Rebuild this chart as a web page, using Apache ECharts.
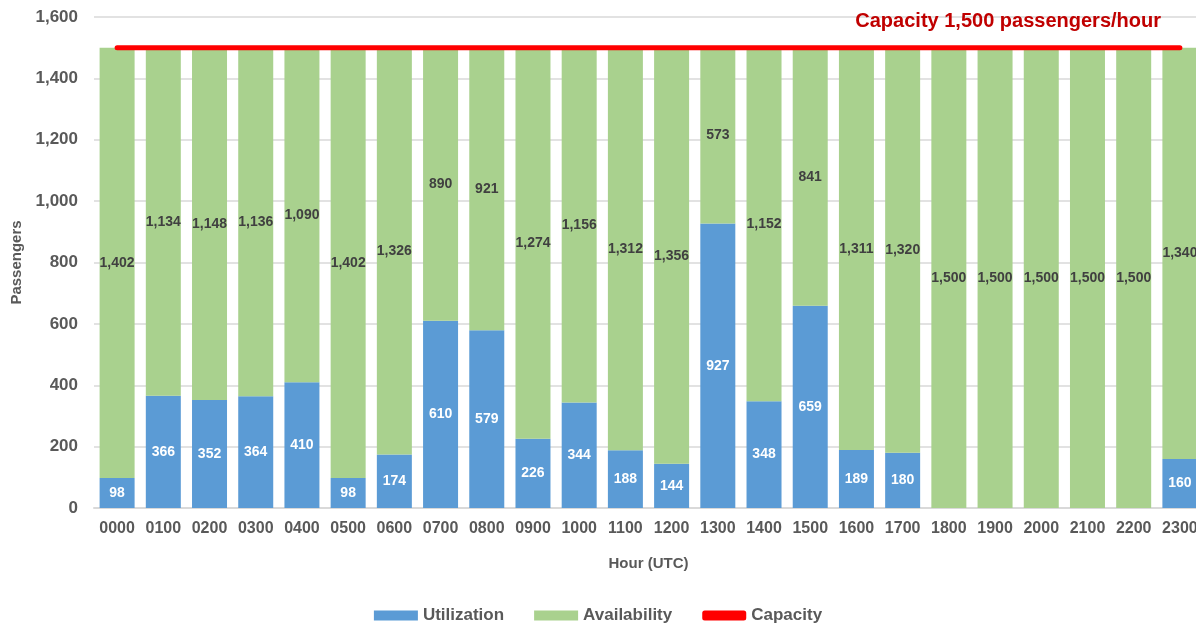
<!DOCTYPE html>
<html><head><meta charset="utf-8">
<script src="https://cdn.jsdelivr.net/npm/echarts@6/dist/echarts.min.js"></script>
<style>html,body{margin:0;padding:0;background:#fff}#c{width:1196px;height:631px}</style>
</head><body><div id="c"></div>
<script>
const hours = ['0000','0100','0200','0300','0400','0500','0600','0700','0800','0900','1000','1100','1200','1300','1400','1500','1600','1700','1800','1900','2000','2100','2200','2300'];
const utilization = [98,366,352,364,410,98,174,610,579,226,344,188,144,927,348,659,189,180,0,0,0,0,0,160];
const availability = [1402,1134,1148,1136,1090,1402,1326,890,921,1274,1156,1312,1356,573,1152,841,1311,1320,1500,1500,1500,1500,1500,1340];
const capacity = hours.map(() => 1500);
const yTicks = {min: 0, max: 1600, interval: 200};

const F = '"Liberation Sans", Arial, sans-serif';
const fmt = v => v.toLocaleString('en-US');
const chart = echarts.init(document.getElementById('c'));
chart.setOption({
  animation: false,
  textStyle: {fontFamily: F},
  title: {
    text: 'Capacity 1,500 passengers/hour',
    right: 30, top: 6,
    textStyle: {color: '#C00000', fontSize: 20, fontWeight: 'bold', fontFamily: F}
  },
  grid: {left: 94, top: 17, width: 1109, bottom: 123, outerBoundsMode: 'none', containLabel: false},
  legend: {
    bottom: 2, left: 'center', itemGap: 30, itemWidth: 44, itemHeight: 10,
    textStyle: {fontSize: 17, fontWeight: 'bold', color: '#595959', fontFamily: F},
    data: [
      {name: 'Utilization', icon: 'rect'},
      {name: 'Availability', icon: 'rect'},
      {name: 'Capacity', icon: 'roundRect', itemStyle: {color: '#FF0000'}}
    ]
  },
  xAxis: {
    type: 'category', data: hours,
    name: 'Hour (UTC)', nameLocation: 'middle', nameGap: 48,
    nameTextStyle: {fontSize: 15, fontWeight: 'bold', color: '#595959', fontFamily: F},
    axisLine: {lineStyle: {color: '#D9D9D9', width: 2}},
    axisTick: {show: false},
    axisLabel: {interval: 0, fontSize: 16, fontWeight: 'bold', color: '#595959', margin: 13}
  },
  yAxis: {
    type: 'value', min: yTicks.min, max: yTicks.max, interval: yTicks.interval,
    name: 'Passengers', nameLocation: 'middle', nameGap: 68, nameRotate: 90,
    nameTextStyle: {fontSize: 15, fontWeight: 'bold', color: '#595959', fontFamily: F},
    axisLabel: {fontSize: 17, fontWeight: 'bold', color: '#595959', margin: 16, formatter: v => fmt(v)},
    splitLine: {lineStyle: {color: '#D9D9D9', width: 1.5}},
    axisLine: {show: false}, axisTick: {show: false}
  },
  series: [
    {
      name: 'Utilization', type: 'bar', stack: 'a', data: utilization, barWidth: 35,
      itemStyle: {color: '#5B9BD5'},
      label: {show: true, position: 'inside', color: '#fff', fontSize: 14, fontWeight: 'bold',
        formatter: p => p.value ? fmt(p.value) : ''}
    },
    {
      name: 'Availability', type: 'bar', stack: 'a', data: availability, barWidth: 35,
      itemStyle: {color: '#A9D18E'},
      label: {show: true, position: 'inside', color: '#404040', fontSize: 14, fontWeight: 'bold',
        formatter: p => fmt(p.value)}
    },
    {
      name: 'Capacity', type: 'line', data: capacity, symbol: 'none', z: 5,
      lineStyle: {color: '#FF0000', width: 5, cap: 'round'}, itemStyle: {color: '#FF0000'}
    }
  ]
});
</script></body></html>
